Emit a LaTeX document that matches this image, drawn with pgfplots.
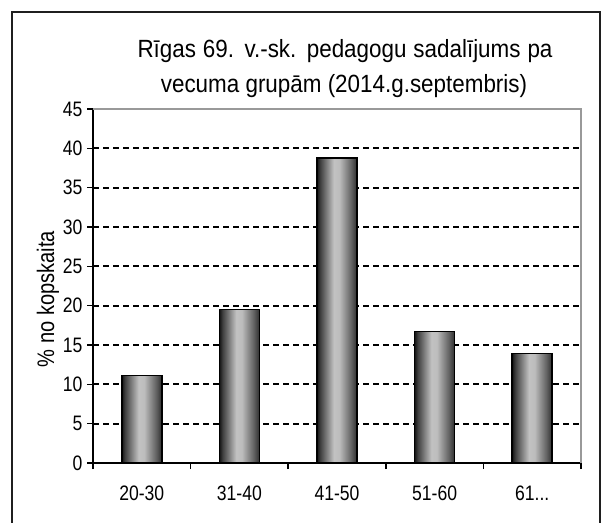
\documentclass[border=0pt]{standalone}
\usepackage{fontspec}
\setmainfont{Liberation Sans}[FakeStretch=0.84]
\newfontfamily\titlefont{Liberation Sans}[FakeStretch=0.9]
\usepackage{pgfplots}
\pgfplotsset{compat=1.18}

% cylinder-like grey shading of the bars
\pgfdeclarehorizontalshading{barshade}{100bp}{
  color(0bp)=(black!92); color(25bp)=(black!92); color(29bp)=(black!75);
  color(46bp)=(black!24); color(53bp)=(black!26); color(68bp)=(black!62);
  color(75bp)=(black!82); color(100bp)=(black!82)}

\begin{document}
\begin{tikzpicture}
\useasboundingbox (0,0) rectangle (608bp,523bp);
\draw[line width=2bp, black!88] (12bp,-10bp) -- (12bp,511bp) -- (600bp,511bp) -- (600bp,-10bp);

\node[anchor=base, inner sep=0pt, font=\titlefont\fontsize{25}{30}\selectfont] at (345bp,465bp)
  {\makebox[415bp][s]{Rīgas 69. v.-sk. pedagogu sadalījums pa}};
\node[anchor=base, inner sep=0pt, font=\titlefont\fontsize{25}{30}\selectfont] at (344bp,430bp)
  {vecuma grupām (2014.g.septembris)};
\node[rotate=90, font=\fontsize{24}{26}\selectfont] at (48bp,224bp) {\% no kopskaita};

\begin{axis}[
    at={(93bp,60bp)}, anchor=south west,
    scale only axis, width=488bp, height=354bp,
    xmin=0.5, xmax=5.5, ymin=0, ymax=45,
    axis x line*=bottom, axis y line*=left,
    axis line style={line width=1.5bp, black},
    ytick={0,5,10,15,20,25,30,35,40,45},
    xtick={0.5,1.5,2.5,3.5,4.5,5.5}, xticklabels={},
    extra x ticks={1,2,3,4,5},
    extra x tick labels={20-30,31-40,41-50,51-60,{61{...}}},
    extra x tick style={major tick length=0pt, grid=none},
    tick align=outside, major tick length=6bp,
    tick style={line width=1.5bp, black},
    ymajorgrids,
    grid style={line width=1.7bp, black, dash pattern=on 6bp off 4bp},
    ticklabel style={font=\fontsize{21}{24}\selectfont},
    /pgf/number format/assume math mode=true,
    xticklabel style={yshift=-19bp},
    yticklabel style={xshift=-1bp},
    clip=false,
]
\draw[line width=1.5bp, black!40] (rel axis cs:0,1) -- (rel axis cs:1,1) -- (rel axis cs:1,0);
\pgfplotsset{mybar/.style={ybar, bar width=40bp, bar shift=0pt,
    draw=black, line width=1.5bp, shading=barshade}}
\addplot[mybar] coordinates {(1,11.1)};
\addplot[mybar] coordinates {(2,19.5)};
\addplot[mybar] coordinates {(3,38.8)};
\addplot[mybar] coordinates {(4,16.7)};
\addplot[mybar] coordinates {(5,13.9)};
\end{axis}
\end{tikzpicture}
\end{document}
